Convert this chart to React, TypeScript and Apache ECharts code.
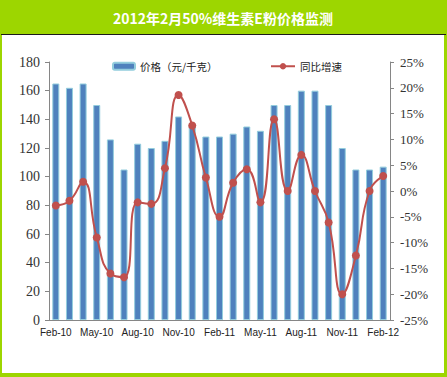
import React, { useEffect, useRef } from "react";
import * as echarts from "echarts";

const categories = [
  "Feb-10", "Mar-10", "Apr-10", "May-10", "Jun-10", "Jul-10", "Aug-10", "Sep-10", "Oct-10",
  "Nov-10", "Dec-10", "Jan-11", "Feb-11", "Mar-11", "Apr-11", "May-11", "Jun-11", "Jul-11",
  "Aug-11", "Sep-11", "Oct-11", "Nov-11", "Dec-11", "Jan-12", "Feb-12",
];
const prices = [165, 162, 165, 150, 126, 105, 123, 120, 125, 142, 136, 128, 128, 130, 135, 132, 150, 150, 160, 160, 150, 120, 105, 105, 107];
const growth = [-2.8, -1.9, 1.8, -9, -16, -16.7, -2.2, -2.5, 4.4, 18.6, 12.7, 2.6, -5, 1.6, 4.2, -2.2, 13.9, 0, 7, 0, -6.1, -20, -12.5, 0, 2.9];
const titleText = "2012年2月50%维生素E粉价格监测";
const barName = "价格（元/千克）";
const lineName = "同比增速";

export default function App() {
  const ref = useRef<HTMLDivElement>(null);
  useEffect(() => {
    if (!ref.current) return;
    const chart = echarts.init(ref.current, null, { renderer: "svg" });
    const axisLineStyle = { color: "#868686", width: 1 };
    chart.setOption({
      animation: false,
      graphic: [
        {
          type: "text",
          x: 223,
          y: 18,
          z: 100,
          style: {
            text: titleText,
            fill: "#ffffff",
            font: 'bold 14px "Noto Sans CJK SC", sans-serif',
            textAlign: "center",
            textVerticalAlign: "middle",
          },
        },
      ],
      legend: [
        {
          left: 107,
          top: 56,
          data: [{ name: barName }],
          itemWidth: 22,
          itemHeight: 7,
          textStyle: { fontSize: 10.5, color: "#222", fontFamily: '"Noto Sans CJK SC", sans-serif' },
          selectedMode: false,
        },
        {
          left: 265,
          top: 56,
          data: [{ name: lineName }],
          itemWidth: 24,
          itemHeight: 8,
          textStyle: { fontSize: 10.5, color: "#222", fontFamily: '"Noto Sans CJK SC", sans-serif' },
          selectedMode: false,
        },
      ],
      grid: { left: 49, right: 57, top: 62, bottom: 57, containLabel: false },
      xAxis: {
        type: "category",
        data: categories,
        boundaryGap: true,
        axisLine: { lineStyle: axisLineStyle },
        axisTick: { interval: 2, length: 4, lineStyle: axisLineStyle },
        axisLabel: {
          interval: 2,
          fontSize: 10,
          color: "#222",
          fontFamily: '"Liberation Sans", Arial, sans-serif',
          margin: 7,
        },
      },
      yAxis: [
        {
          type: "value",
          min: 0,
          max: 180,
          interval: 20,
          splitLine: { show: false },
          axisLine: { show: true, lineStyle: axisLineStyle },
          axisTick: { show: true, length: 4, lineStyle: axisLineStyle },
          axisLabel: {
            fontSize: 14,
            color: "#333",
            fontFamily: '"Liberation Serif", "Times New Roman", serif',
            margin: 9,
          },
        },
        {
          type: "value",
          min: -25,
          max: 25,
          interval: 5,
          position: "right",
          splitLine: { show: false },
          axisLine: { show: true, lineStyle: axisLineStyle },
          axisTick: { show: true, length: 4, lineStyle: axisLineStyle },
          axisLabel: {
            fontSize: 13,
            color: "#333",
            fontFamily: '"Liberation Serif", "Times New Roman", serif',
            margin: 10,
            formatter: (v: number) => v + "%",
          },
        },
      ],
      series: [
        {
          name: barName,
          type: "bar",
          data: prices,
          barWidth: 7,
          yAxisIndex: 0,
          itemStyle: { color: "#4f81bd", borderColor: "#93cddd", borderWidth: 1 },
        },
        {
          name: lineName,
          type: "line",
          data: growth,
          yAxisIndex: 1,
          smooth: true,
          symbol: "circle",
          symbolSize: 8,
          lineStyle: { color: "#c0504d", width: 2 },
          itemStyle: { color: "#c0504d" },
          z: 3,
        },
      ],
    });
    return () => chart.dispose();
  }, []);

  return (
    <div style={{ position: "absolute", left: 0, top: 0, width: 447, height: 377, background: "#9dd600" }}>
      <div style={{ position: "absolute", left: 1, top: 34, width: 445, height: 1, background: "#1a1a1a" }} />
      <div style={{ position: "absolute", left: 2, top: 35, width: 442, height: 338, background: "#ffffff" }} />
      <div ref={ref} style={{ position: "absolute", left: 0, top: 0, width: 447, height: 377 }} />
    </div>
  );
}
